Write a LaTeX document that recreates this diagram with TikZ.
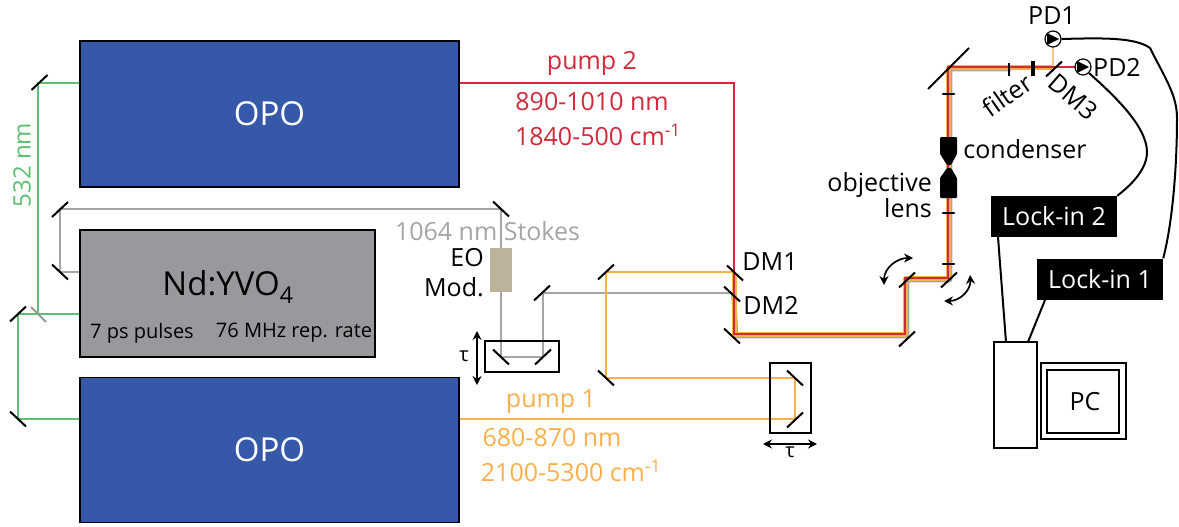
\documentclass[tikz,border=0pt]{standalone}
\usepackage{fontspec}
\setmainfont{Open Sans}
\usetikzlibrary{arrows.meta, calc}
\definecolor{opoblue}{HTML}{3558A8}
\definecolor{lasergrey}{HTML}{97999C}
\definecolor{beamgreen}{HTML}{5CBF72}
\definecolor{beamred}{HTML}{D02A3C}
\definecolor{beamorange}{HTML}{F9B04A}
\definecolor{beamgrey}{HTML}{A3A5A7}
\definecolor{modtan}{HTML}{BDB29B}

\begin{document}
\begin{tikzpicture}[
    x=1pt, y=-1pt,
    opo/.style={draw=black, line width=1.5pt, fill=opoblue, text=white, minimum width=379pt, minimum height=146pt, inner sep=0pt, font=\fontsize{33}{33}\selectfont},
    openbox/.style={draw=black, line width=2pt, fill=none, inner sep=0pt},
    lockin/.style={fill=black, text=white, minimum width=126pt, minimum height=41pt, inner sep=0pt, font=\fontsize{25}{25}\selectfont},
    label/.style={font=\fontsize{25}{25}\selectfont, inner sep=0pt},
    small/.style={font=\fontsize{20}{20}\selectfont, inner sep=0pt},
    mirrorline/.style={draw=black, line width=2pt},
    beam/.style={line width=2.5pt},
    wire/.style={draw=black, line width=2pt},
    pd/.style={circle, draw=black, line width=1.2pt, fill=white, minimum size=16pt, inner sep=0pt},
    dbl/.style={draw=black, line width=1.7pt, {Stealth[length=9pt,width=9pt]}-{Stealth[length=9pt,width=9pt]}}
]
    \useasboundingbox (0,0) rectangle (1179,527);

    % main boxes
    \node[opo] (opoA) at (269.5,114) {OPO};
    \node[opo, minimum height=145pt] (opoB) at (269.5,450) {OPO};
    \node[draw=black, line width=1.5pt, fill=lasergrey, minimum width=295pt, minimum height=127pt, inner sep=0pt] (laser) at (227.5,293.5) {};
    \node[font=\fontsize{33}{33}\selectfont, inner sep=0pt] (lasername) at (228,287) {Nd:YVO\textsubscript{4}};
    \node[small] (pulses) at (142,333) {7 ps pulses};
    \node[small] (rate) at (294,333) {76 MHz rep. rate};

    % turning points
    \coordinate (gA) at (38,83);
    \coordinate (gB) at (38,314);
    \coordinate (gC) at (18,314);
    \coordinate (gD) at (18,419);
    \coordinate (sA) at (60,272);
    \coordinate (sB) at (60,209);
    \coordinate (sC) at (501,209);
    \coordinate (sD) at (501,357);
    \coordinate (sE) at (543,357);
    \coordinate (sF) at (543,293);
    \coordinate (dmTwo) at (732,293);
    \coordinate (dmOne) at (734,272);
    \coordinate (oA) at (795,419);
    \coordinate (oB) at (795,378);
    \coordinate (oC) at (606,378);
    \coordinate (oD) at (606,272);
    \coordinate (rA) at (734,83);
    \coordinate (bA) at (734,334);
    \coordinate (bB) at (905,334);
    \coordinate (bC) at (905,278);
    \coordinate (bD) at (948,278);
    \coordinate (bE) at (948,67);
    \coordinate (fA) at (1009,67);
    \coordinate (dmThree) at (1053,67);

    % beams
    \draw[beam, beamgreen] (opoA.west |- gA) -- (gA) -- (gB);
    \draw[beam, beamgreen] (laser.west |- gC) -- (gC) -- (gD) -- (opoB.west |- gD);
    \draw[beam, beamgrey] (laser.west |- sA) -- (sA) -- (sB) -- (sC) -- (sD) -- (sE) -- (sF) -- (dmTwo);
    \draw[beam, beamorange] (opoB.east |- oA) -- (oA) -- (oB) -- (oC) -- (oD) -- (dmOne);
    \draw[line width=5pt, beamgrey, line join=round, transform canvas={xshift=1.8pt, yshift=-1.8pt}] (dmTwo) -- (bA) -- (bB) -- (bC) -- (bD) -- (bE) -- (fA);
    \draw[line width=4.6pt, beamorange, line join=round, transform canvas={xshift=0.7pt, yshift=-0.7pt}] (dmOne) -- (bA) -- (bB) -- (bC) -- (bD) -- (bE) -- (dmThree);
    \draw[beam, beamorange!70!white] (1053,68) -- (1053,46);
    \draw[beam, beamred] (opoA.east |- rA) -- (rA) -- (bA) -- (bB) -- (bC) -- (bD) -- (bE) -- (1076,67);

    % mirrors
    \foreach \x/\y in {39.5/82.5, 18/314, 606/272, 542/293, 543/357, 795/420, 907/339, 907/280, 949/280, 1054/69}
        \draw[mirrorline] (\x-8,\y+7.5) -- (\x+8,\y-7.5);
    \foreach \x/\y in {18/419, 60/272, 501/209, 501/357, 606/378, 795/378, 735/273, 732/294, 732/336}
        \draw[mirrorline] (\x-8,\y-7.5) -- (\x+8,\y+7.5);
    \draw[mirrorline] (52,217) -- (68,202);
    \draw[line width=2pt, draw=lasergrey] (31,307) -- (46,322);
    \draw[mirrorline] (928,89) -- (969,48);

    % lenses and filters
    \foreach \y in {94, 213, 264}
        \draw[line width=2.6pt, line cap=round] (943,\y) -- (954,\y);
    \draw[line width=2pt] (1009,63) -- (1009,76);
    \draw[line width=4pt] (1033,61) -- (1033,76);
    \fill[rounded corners=1pt] (940,137) -- (957,137) -- (957,154) -- (951,165) -- (947,165) -- (940,154) -- cycle;
    \fill[rounded corners=1pt] (947,168) -- (951,168) -- (957,178) -- (957,198) -- (940,198) -- (940,178) -- cycle;

    % delay stages
    \node[openbox, minimum width=74pt, minimum height=31pt] (delayA) at (522,356.5) {};
    \node[openbox, minimum width=41pt, minimum height=70pt] (delayB) at (790.5,398) {};
    \node[fill=modtan, minimum width=22pt, minimum height=44pt, inner sep=0pt] (eom) at (501,270) {};
    \draw[dbl] (477,331) -- (477,385);
    \draw[dbl] (763,444) -- (817,444);
    \node[font=\fontsize{20}{20}\selectfont, inner sep=0pt] (tauA) at (464,356) {τ};
    \node[font=\fontsize{20}{20}\selectfont, inner sep=0pt] (tauB) at (790,452) {τ};

    % beam labels
    \node[label, rotate=90, font=\fontsize{24}{24}\selectfont, text=beamgreen] (green) at (22,165) {532 nm};
    \node[label, text=beamred] (pumpB) at (592,63) {pump 2};
    \node[label, text=beamred] (pumpBa) at (592,102) {890-1010 nm};
    \node[label, text=beamred] (pumpBb) at (598,135) {1840-500 cm\textsuperscript{-1}};
    \node[label, text=beamorange] (pumpC) at (551,402) {pump 1};
    \node[label, text=beamorange] (pumpCa) at (552,438) {680-870 nm};
    \node[label, text=beamorange] (pumpCb) at (571,471) {2100-5300 cm\textsuperscript{-1}};
    \node[label, text=beamgrey] (stokes) at (487.5,231) {1064 nm Stokes};
    \node[label, align=right, font=\fontsize{25}{30}\selectfont, anchor=east] (eolabel) at (484,273) {EO\\Mod.};
    \node[label] (dmA) at (770,262) {DM1};
    \node[label] (dmB) at (771,305) {DM2};
    \node[label] (cond) at (1025,149) {condenser};
    \node[label, align=right, font=\fontsize{25}{22}\selectfont, anchor=east] (obj) at (932,195) {objective\\lens};
    \node[label, rotate=35] (filter) at (1007,95) {filter};
    \node[label, rotate=-41] (dmC) at (1073,97) {DM3};

    % detection
    \node[pd] (pdA) at (1053,39) {};
    \node[pd] (pdB) at (1083,67) {};
    \fill (1047,33) -- (1059,39) -- (1047,45) -- cycle;
    \fill (1077,61) -- (1089,67) -- (1077,73) -- cycle;
    \node[label] (pdAt) at (1052,16) {PD1};
    \node[label] (pdBt) at (1117,67) {PD2};
    \node[lockin] (lockB) at (1054,216.5) {Lock-in 2};
    \node[lockin] (lockA) at (1100,279) {Lock-in 1};
    \node[openbox, minimum width=43pt, minimum height=106pt] (tower) at (1015.5,395) {};
    \node[openbox, minimum width=85pt, minimum height=76pt] (screenA) at (1083.5,401) {};
    \node[openbox, minimum width=72pt, minimum height=63pt] (screenB) at (1083,401.5) {};
    \node[label] (pc) at (1085,402) {PC};

    \draw[wire] (pdA.east) .. controls (1100,38) and (1135,37) .. (1150,48) .. controls (1165,78) and (1177,95) .. (1177,118) .. controls (1177,170) and (1172,225) .. (lockA.north east);
    \draw[wire] (pdB.south east) .. controls (1110,92) and (1147,125) .. (1147,152) .. controls (1147,170) and (1130,186) .. (lockB.north east);
    \draw[wire] (998,237) -- (1006,342);
    \draw[wire] (1045,300) -- (1028,342);

    % tilting arrows
    \draw[dbl] (884,285) .. controls (884,268) and (897,258) .. (913,258);
    \draw[dbl] (944,301) .. controls (960,301) and (971,290) .. (970,275);
\end{tikzpicture}
\end{document}
